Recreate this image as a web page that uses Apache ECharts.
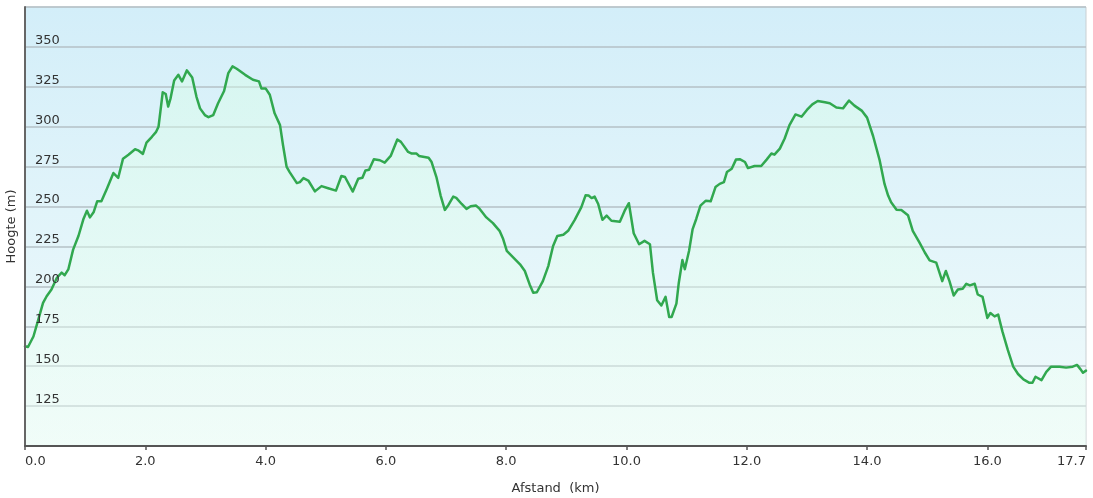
<!DOCTYPE html>
<html>
<head>
<meta charset="utf-8">
<script src="https://cdn.jsdelivr.net/npm/echarts@6/dist/echarts.min.js"></script>
<style>
html,body{margin:0;padding:0;background:#fff;}
#chart{width:1093px;height:498px;}
</style>
</head>
<body>
<div id="chart"></div>
<script>
// Distance along route (km)
var distKm = [
0.00,0.05,0.14,0.22,0.30,0.36,0.44,0.53,0.61,0.66,0.72,0.80,0.89,0.97,1.03,1.08,1.14,1.20,1.27,1.36,
1.47,1.55,1.63,1.72,1.83,1.88,1.96,2.02,2.11,2.18,2.22,2.29,2.34,2.38,2.42,2.48,2.55,2.61,2.69,2.78,
2.85,2.91,2.99,3.05,3.13,3.21,3.31,3.38,3.45,3.52,3.66,3.79,3.89,3.93,4.00,4.07,4.15,4.24,4.29,4.35,
4.40,4.52,4.57,4.63,4.71,4.82,4.93,5.04,5.17,5.26,5.32,5.45,5.54,5.61,5.66,5.72,5.80,5.90,5.98,6.08,
6.19,6.25,6.37,6.43,6.51,6.55,6.71,6.76,6.84,6.91,6.98,7.04,7.12,7.17,7.26,7.34,7.41,7.50,7.56,7.67,
7.78,7.89,7.95,8.01,8.12,8.23,8.31,8.39,8.45,8.51,8.61,8.70,8.78,8.85,8.95,9.03,9.14,9.25,9.32,9.37,
9.42,9.47,9.53,9.60,9.67,9.75,9.89,9.97,10.04,10.12,10.21,10.30,10.39,10.44,10.51,10.58,10.65,10.71,10.75,10.83,
10.87,10.93,10.97,11.04,11.10,11.16,11.23,11.32,11.40,11.48,11.55,11.62,11.67,11.75,11.82,11.89,11.97,12.02,12.13,12.24,
12.33,12.41,12.46,12.55,12.63,12.71,12.81,12.91,13.00,13.09,13.18,13.30,13.38,13.49,13.60,13.70,13.79,13.91,14.00,14.10,
14.21,14.29,14.35,14.40,14.49,14.57,14.68,14.76,14.87,14.96,15.04,15.15,15.25,15.31,15.37,15.44,15.51,15.59,15.65,15.71,
15.79,15.84,15.92,16.00,16.05,16.12,16.18,16.25,16.34,16.43,16.51,16.60,16.70,16.75,16.80,16.90,16.98,17.06,17.20,17.31,
17.42,17.49,17.55,17.59,17.64
];
// Elevation (m)
var heightM = [
162.5,162,168.6,179,189.6,193.8,198,205.4,208.6,207,210.6,223,231.7,242,247.4,243.2,246.4,253.3,253.3,261,
271,268,280,282.5,285.9,285.2,283,290,293.7,296.8,300,321.6,320.5,312.6,317.8,329,332.5,328.4,335.3,330.9,
318.9,311.5,307.3,306,307.3,314.7,322.4,333.6,337.8,336.3,332.5,329.4,328.4,324,324,320,308.4,301,288.4,274.8,
271.6,264.7,265.3,267.8,266.3,259.5,262.8,261.5,260,269.1,268.5,259.4,267.4,268,272.6,273,279.6,279,277.5,281.7,
292,290.5,284.2,283.2,283.2,281.7,280.6,277.9,268.5,256.9,247.9,251,256.2,255.4,251.6,248.5,250.2,250.6,248.5,243.2,
239.6,234.8,229.6,222.2,218,213.8,209.6,201.2,196,196.3,203.3,212.7,225.3,231.6,232.3,234.8,241.7,249.6,257,256.9,
255.3,256.2,251.6,241.7,244.3,241.1,240.5,247.4,252.1,233.3,226.4,228.5,226.4,208.6,191.3,188,193.4,180.8,180.8,189.2,
202.3,216.5,210.7,222.2,235.9,242.2,250.6,253.7,253.3,262.2,264.2,265.3,271.6,273.7,279.4,279.6,277.9,274.1,275.4,275.4,
279.4,283.2,282.5,286.3,292.6,301,307.7,306.3,310.5,314,316.1,315.3,314.7,312,311.5,316.4,313.2,310.1,305.7,294.2,
278.9,264.2,256.9,252.7,248,247.8,244.6,234.8,227.5,221.2,216.3,214.9,203.3,209.6,203.3,194.3,198,198.5,201.6,200.6,
201.6,194.9,193.4,180.2,183.3,181.2,182.3,171.8,160.2,149.7,145.1,141.7,139.6,139.6,143.4,141.3,146.5,149.7,149.7,149.1,
149.7,150.8,148,145.9,147.2
];
var xMin = 0, xMax = 17.64, xInterval = 2;
var xMaxLabel = '17.7';
var yMin = 100, yMax = 375, yInterval = 25;
var xName = 'Afstand  (km)';
var yName = 'Hoogte (m)';

var points = distKm.map(function (d, i) { return [d, heightM[i]]; });

var chart = echarts.init(document.getElementById('chart'), null, {renderer: 'canvas'});
var font = 'DejaVu Sans, Verdana, sans-serif';
chart.setOption({
  animation: false,
  backgroundColor: '#ffffff',
  grid: {
    left: 25, right: 7, top: 7, bottom: 52,
    containLabel: false,
    outerBoundsMode: 'none',
    show: true,
    borderColor: '#c9cfd2',
    borderWidth: 1,
    backgroundColor: new echarts.graphic.LinearGradient(0, 0, 0, 1, [
      {offset: 0, color: '#d3eef9'},
      {offset: 1, color: '#f1fbfb'}
    ])
  },
  xAxis: {
    type: 'value',
    min: xMin, max: xMax, interval: xInterval,
    name: xName,
    nameLocation: 'middle',
    nameGap: 36,
    nameTextStyle: {fontFamily: font, fontSize: 13, color: '#333'},
    axisLine: {show: true, onZero: false, lineStyle: {color: '#555', width: 2}},
    axisTick: {show: true, length: 4, lineStyle: {color: '#555', width: 1.5}},
    splitLine: {show: false},
    z: 6,
    axisLabel: {
      fontFamily: font, fontSize: 13, color: '#333', margin: 9,
      showMinLabel: true, showMaxLabel: true,
      alignMinLabel: 'left', alignMaxLabel: 'right',
      hideOverlap: false,
      formatter: function (v) {
        if (Math.abs(v - xMax) < 1e-6) return xMaxLabel;
        return v.toFixed(1);
      }
    }
  },
  yAxis: [{
    type: 'value',
    min: yMin, max: yMax, interval: yInterval,
    name: yName,
    nameLocation: 'middle',
    nameGap: 7,
    nameTextStyle: {fontFamily: font, fontSize: 13, color: '#333'},
    axisLine: {show: false},
    axisTick: {show: false},
    splitLine: {show: true, lineStyle: {color: '#b4c1c6', width: 1.5}},
    axisLabel: {show: false},
    z: 0
  }, {
    type: 'value',
    position: 'left',
    min: yMin, max: yMax, interval: yInterval,
    axisLine: {show: true, lineStyle: {color: '#666', width: 2}},
    axisTick: {show: false},
    splitLine: {show: false},
    z: 6,
    axisLabel: {
      inside: true, margin: 10,
      fontFamily: font, fontSize: 13, color: '#333',
      align: 'left', verticalAlign: 'bottom', padding: [0, 0, 0, 0],
      showMinLabel: false, showMaxLabel: false
    }
  }],
  series: [{
    type: 'line',
    data: points,
    yAxisIndex: 0,
    showSymbol: false,
    symbol: 'none',
    smooth: false,
    lineStyle: {color: '#31a84f', width: 2.5, join: 'round', cap: 'round'},
    areaStyle: {
      color: new echarts.graphic.LinearGradient(0, 0, 0, 1, [
        {offset: 0, color: 'rgba(215,255,230,0.6)'},
        {offset: 1, color: 'rgba(240,255,245,0.6)'}
      ])
    },
    z: 3
  }]
});
</script>
</body>
</html>
